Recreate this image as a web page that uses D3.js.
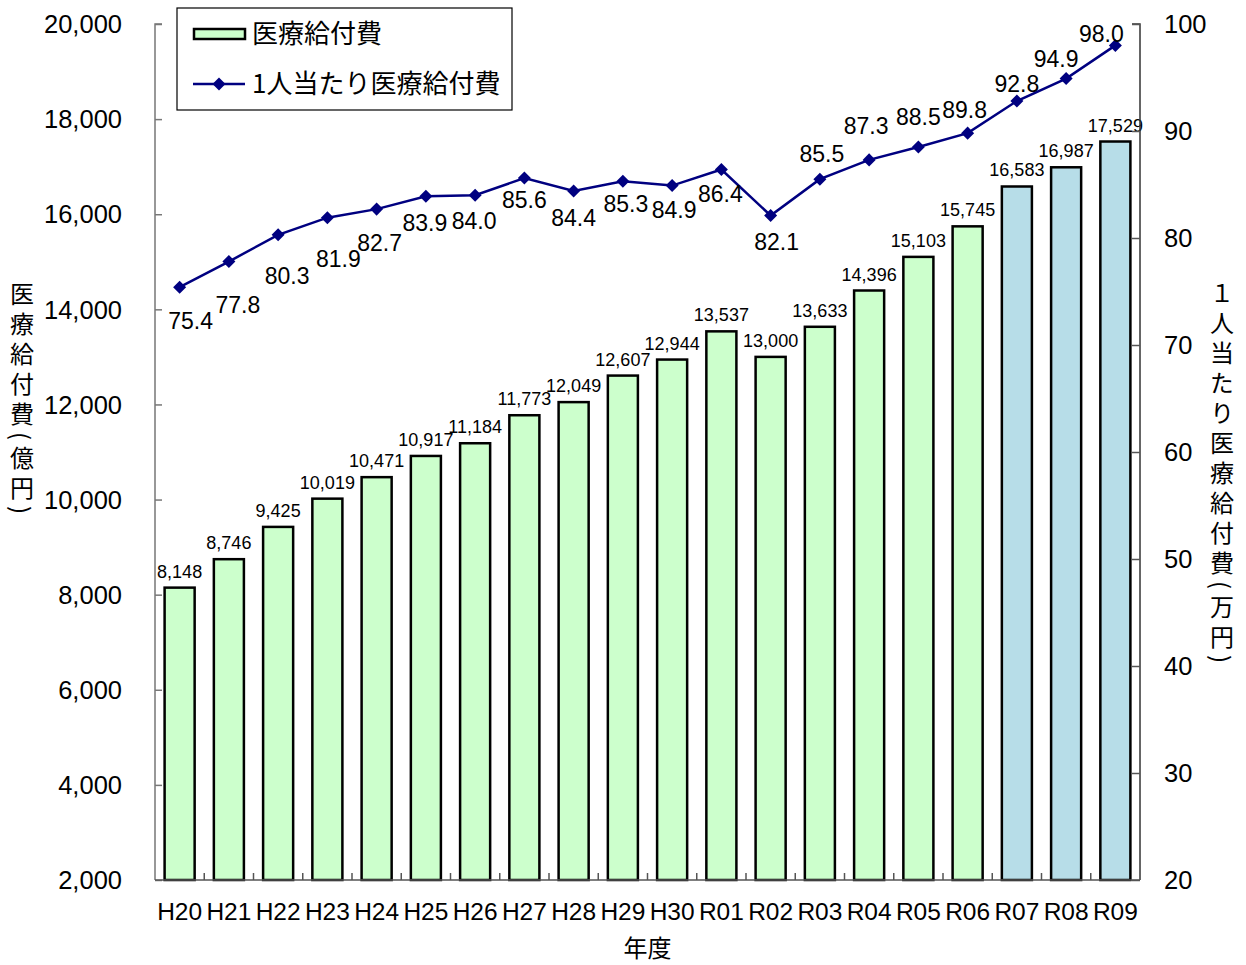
<!DOCTYPE html>
<html>
<head>
<meta charset="utf-8">
<script src="https://cdn.jsdelivr.net/npm/d3@7"></script>
<style>
  body { margin: 0; background: #fff; }
  svg { display: block; font-family: "Liberation Sans", "Noto Sans CJK JP", sans-serif; }
</style>
</head>
<body>
<div id="chart"></div>
<script>
// 年度
const years = ["H20","H21","H22","H23","H24","H25","H26","H27","H28","H29","H30",
               "R01","R02","R03","R04","R05","R06","R07","R08","R09"];
// 医療給付費（億円）
const totalCost = [8148, 8746, 9425, 10019, 10471, 10917, 11184, 11773, 12049, 12607, 12944,
                   13537, 13000, 13633, 14396, 15103, 15745, 16583, 16987, 17529];
// 1人当たり医療給付費（万円）
const perCapita = [75.4, 77.8, 80.3, 81.9, 82.7, 83.9, 84.0, 85.6, 84.4, 85.3, 84.9,
                   86.4, 82.1, 85.5, 87.3, 88.5, 89.8, 92.8, 94.9, 98.0];
// 見込み（青）の年度
const estimateYears = ["R07","R08","R09"];
// 折れ線ラベルのずらし量（点からの相対位置）
const labelDx = [11, 9, 9, 11, 3, -1, -1, 0, 0, 3, 2, -1, 6, 2, -3, 0, -3, 0, -10, -14];
const labelDy = [33, 43, 41, 41, 34, 26, 26, 22, 27, 22, 24, 24, 26, -25, -34, -30, -23, -17, -20, -12];
const leftTicks = [2000,4000,6000,8000,10000,12000,14000,16000,18000,20000];
const rightTicks = [20,30,40,50,60,70,80,90,100];

const width = 1246, height = 965;
const margin = ({top: 24, right: 106, bottom: 85, left: 155});

const svg = d3.select("#chart").append("svg")
    .attr("width", width)
    .attr("height", height);

const x = d3.scaleBand(years, [margin.left, width - margin.right])
    .paddingInner(0.39)
    .paddingOuter(0.195);

const yL = d3.scaleLinear([2000, 20000], [height - margin.bottom, margin.top]);
const yR = d3.scaleLinear([20, 100], [height - margin.bottom, margin.top]);

const fmt = d3.format(",");
const cx = d => x(d) + x.bandwidth() / 2;

// bars
svg.append("g")
    .selectAll("rect")
    .data(years)
    .join("rect")
    .attr("x", d => x(d))
    .attr("y", (d, i) => yL(totalCost[i]))
    .attr("width", x.bandwidth())
    .attr("height", (d, i) => yL(2000) - yL(totalCost[i]))
    .attr("fill", d => estimateYears.includes(d) ? "#b7dde8" : "#ccffcc")
    .attr("stroke", "#000")
    .attr("stroke-width", 2.5);

// bar labels
svg.append("g")
    .attr("font-size", 18)
    .attr("text-anchor", "middle")
    .selectAll("text")
    .data(years)
    .join("text")
    .attr("x", cx)
    .attr("y", (d, i) => yL(totalCost[i]) - 10)
    .text((d, i) => fmt(totalCost[i]));

// left axis
const axisL = svg.append("g")
    .attr("transform", `translate(${margin.left},0)`)
    .call(d3.axisRight(yL).tickValues(leftTicks).tickSize(7).tickFormat(""));
axisL.select(".domain").attr("stroke", "#777").attr("stroke-width", 1.5).attr("d", `M7,${yL(20000)}H0V${yL(2000)}`);
axisL.selectAll(".tick line").attr("stroke", "#777").attr("stroke-width", 1.5);

svg.append("g")
    .attr("font-size", 25.5)
    .attr("text-anchor", "end")
    .selectAll("text")
    .data(leftTicks)
    .join("text")
    .attr("x", 122)
    .attr("y", d => yL(d))
    .attr("dy", "0.36em")
    .text(d => fmt(d));

// right axis
const axisR = svg.append("g")
    .attr("transform", `translate(${width - margin.right},0)`)
    .call(d3.axisLeft(yR).tickValues(rightTicks).tickSize(8).tickFormat(""));
axisR.select(".domain").attr("stroke", "#333").attr("stroke-width", 1.5).attr("d", `M-8,${yR(100)}H0V${yR(20)}`);
axisR.selectAll(".tick line").attr("stroke", "#555").attr("stroke-width", 1.5);

svg.append("g")
    .attr("font-size", 25.5)
    .attr("text-anchor", "start")
    .selectAll("text")
    .data(rightTicks)
    .join("text")
    .attr("x", width - margin.right + 24)
    .attr("y", d => yR(d))
    .attr("dy", "0.36em")
    .text(d => d);

// bottom axis
const base = height - margin.bottom;
const bounds = d3.range(years.length + 1).map(i => margin.left + i * x.step());
svg.append("g")
    .attr("stroke", "#555")
    .attr("stroke-width", 1.5)
    .call(g => g.append("line")
        .attr("x1", margin.left).attr("x2", width - margin.right)
        .attr("y1", base).attr("y2", base))
    .selectAll("line.tk")
    .data(bounds.slice(1, -1))
    .join("line")
    .attr("class", "tk")
    .attr("x1", d => d).attr("x2", d => d)
    .attr("y1", base).attr("y2", base - 7);

svg.append("g")
    .attr("font-size", 24.5)
    .attr("text-anchor", "middle")
    .selectAll("text")
    .data(years)
    .join("text")
    .attr("x", cx)
    .attr("y", 920)
    .text(d => d);

svg.append("text")
    .attr("x", (margin.left + width - margin.right) / 2)
    .attr("y", 957)
    .attr("text-anchor", "middle")
    .attr("font-size", 24)
    .attr("font-family", "Noto Sans CJK JP")
    .text("年度");

// line
svg.append("path")
    .datum(years)
    .attr("fill", "none")
    .attr("stroke", "#000080")
    .attr("stroke-width", 2.5)
    .attr("d", d3.line().x(cx).y((d, i) => yR(perCapita[i])));

const diamond = d3.symbol(d3.symbolSquare, 85);
svg.append("g")
    .attr("fill", "#000080")
    .selectAll("path")
    .data(years)
    .join("path")
    .attr("transform", (d, i) => `translate(${cx(d)},${yR(perCapita[i])}) rotate(45)`)
    .attr("d", diamond);

svg.append("g")
    .attr("font-size", 23)
    .attr("text-anchor", "middle")
    .selectAll("text")
    .data(years)
    .join("text")
    .attr("x", (d, i) => cx(d) + labelDx[i])
    .attr("y", (d, i) => yR(perCapita[i]) + labelDy[i])
    .attr("dy", "0.36em")
    .text((d, i) => perCapita[i].toFixed(1));

// vertical axis titles
function verticalTitle(str, xPos, yStart) {
    svg.append("text")
        .attr("x", xPos)
        .attr("y", yStart)
        .attr("font-size", 24)
        .attr("font-family", "Noto Sans CJK JP")
        .style("writing-mode", "vertical-rl")
        .style("letter-spacing", "6px")
        .text(str);
}
verticalTitle("医療給付費(億円)", 22, 282);
verticalTitle("１人当たり医療給付費(万円)", 1222, 281);

// legend
const legend = svg.append("g");
legend.append("rect")
    .attr("x", 177).attr("y", 8)
    .attr("width", 335).attr("height", 102)
    .attr("fill", "#fff")
    .attr("stroke", "#000")
    .attr("stroke-width", 1.2);
legend.append("rect")
    .attr("x", 194).attr("y", 29)
    .attr("width", 51).attr("height", 10)
    .attr("fill", "#ccffcc")
    .attr("stroke", "#000")
    .attr("stroke-width", 2.5);
legend.append("text")
    .attr("x", 252).attr("y", 34).attr("dy", "0.36em")
    .attr("font-size", 26)
    .attr("font-family", "Noto Sans CJK JP")
    .text("医療給付費");
legend.append("line")
    .attr("x1", 193).attr("x2", 245)
    .attr("y1", 84).attr("y2", 84)
    .attr("stroke", "#000080").attr("stroke-width", 2.5);
legend.append("path")
    .attr("transform", "translate(219,84) rotate(45)")
    .attr("d", diamond)
    .attr("fill", "#000080");
legend.append("text")
    .attr("x", 252).attr("y", 84).attr("dy", "0.36em")
    .attr("font-size", 26)
    .attr("font-family", "Noto Sans CJK JP")
    .text("1人当たり医療給付費");
</script>
</body>
</html>
